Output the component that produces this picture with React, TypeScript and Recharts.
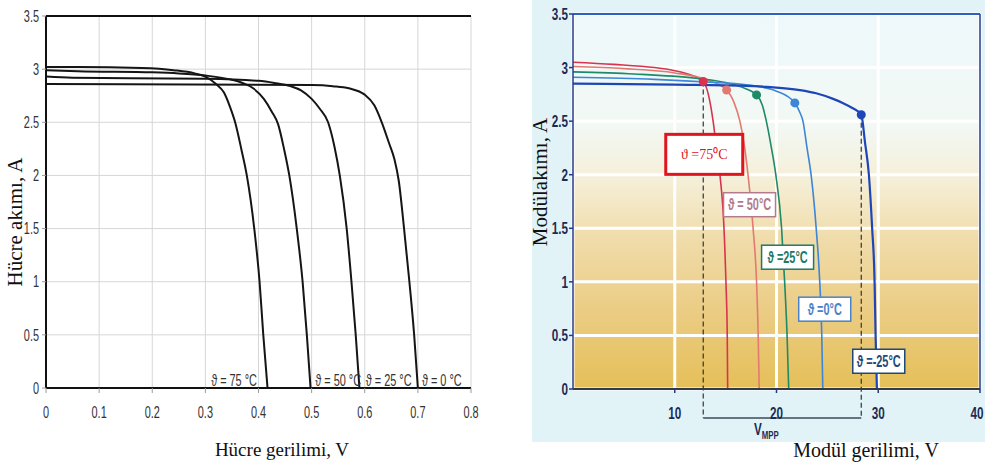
import React from 'react';
import {
  LineChart, ComposedChart, Line, Scatter, Cell, XAxis, YAxis, CartesianGrid,
  ReferenceLine, ReferenceDot,
} from 'recharts';

// ---- left panel: single cell, current vs voltage for 4 temperatures ----
const cellV75 = [0, 0.06, 0.18, 0.24, 0.28, 0.3, 0.32, 0.335, 0.346, 0.356, 0.368, 0.378, 0.392, 0.402, 0.409, 0.417];
const cellI75 = [3.02, 3.02, 3.01, 2.99, 2.96, 2.93, 2.86, 2.78, 2.65, 2.5, 2.24, 2.0, 1.5, 1.0, 0.5, 0];
const cellV50 = [0, 0.06, 0.2, 0.25, 0.3, 0.35, 0.37, 0.39, 0.41, 0.425, 0.437, 0.448, 0.458, 0.472, 0.483, 0.491, 0.498];
const cellI50 = [2.99, 2.98, 2.97, 2.96, 2.94, 2.9, 2.87, 2.82, 2.72, 2.6, 2.48, 2.25, 2.0, 1.5, 1.0, 0.5, 0];
const cellV25 = [0, 0.05, 0.3, 0.4, 0.43, 0.46, 0.48, 0.5, 0.515, 0.531, 0.543, 0.553, 0.566, 0.575, 0.583, 0.59];
const cellI25 = [2.93, 2.92, 2.91, 2.89, 2.87, 2.84, 2.8, 2.72, 2.63, 2.5, 2.27, 2.0, 1.5, 1.0, 0.5, 0];
const cellV0 = [0, 0.5, 0.54, 0.57, 0.6, 0.618, 0.632, 0.646, 0.656, 0.664, 0.674, 0.684, 0.693, 0.7];
const cellI0 = [2.86, 2.85, 2.84, 2.82, 2.76, 2.66, 2.5, 2.3, 2.15, 1.95, 1.5, 1.0, 0.5, 0];

const cellXTicks = [0, 0.1, 0.2, 0.3, 0.4, 0.5, 0.6, 0.7, 0.8];
const cellYTicks = [0, 0.5, 1, 1.5, 2, 2.5, 3, 3.5];
const cellLabels = ['ϑ = 75 °C', 'ϑ = 50 °C', 'ϑ = 25 °C', 'ϑ = 0 °C'];
const cellLabelV = [0.354, 0.55, 0.645, 0.745];
const cellLabelI = [0.075, 0.075, 0.075, 0.075];

// ---- right panel: module, current vs voltage for 5 temperatures ----
const modV75 = [0, 4, 8, 10.5, 12.8, 13.3, 13.77, 14.1, 14.44, 14.84, 15.03, 15.16, 15.2];
const modI75 = [3.05, 3.03, 3.0, 2.96, 2.87, 2.75, 2.5, 2.25, 2.0, 1.5, 1.0, 0.5, 0];
const modV50 = [0, 5, 10, 13, 15.1, 15.8, 16.4, 16.8, 17.2, 17.7, 18.04, 18.2, 18.3];
const modI50 = [3.01, 2.99, 2.95, 2.89, 2.79, 2.68, 2.5, 2.3, 2.0, 1.5, 1.0, 0.5, 0];
const modV25 = [0, 6, 12, 15, 16.5, 18.04, 18.6, 19.0, 19.5, 19.93, 20.5, 20.8, 21.04, 21.2];
const modI25 = [2.96, 2.94, 2.9, 2.86, 2.82, 2.745, 2.65, 2.5, 2.25, 2.0, 1.5, 1.0, 0.5, 0];
const modV0 = [0, 8, 14, 17, 20, 21.8, 22.3, 22.6, 23.0, 23.4, 23.9, 24.25, 24.45, 24.55];
const modI0 = [2.91, 2.89, 2.86, 2.84, 2.78, 2.67, 2.58, 2.5, 2.25, 2.0, 1.5, 1.0, 0.5, 0];
const modVm25 = [0, 10, 17, 19, 22.3, 23.9, 25.5, 26.5, 27.5, 28.33, 28.7, 29.08, 29.4, 29.64, 29.74, 29.87];
const modIm25 = [2.85, 2.84, 2.83, 2.82, 2.79, 2.76, 2.71, 2.67, 2.62, 2.56, 2.3, 2.0, 1.5, 1.0, 0.5, 0];

const mppV = [12.8, 15.1, 18.04, 21.8, 28.33];
const mppI = [2.87, 2.79, 2.745, 2.67, 2.56];

const modXTicks = [10, 20, 30, 40];
const modYTicks = [0, 0.5, 1, 1.5, 2, 2.5, 3, 3.5];
const modLabels = ['ϑ =75⁰C', 'ϑ = 50°C', 'ϑ =25°C', 'ϑ =0°C', 'ϑ =-25°C'];
const modLabelV = [12.9, 17.35, 21.09, 24.74, 30.05];
const modLabelI = [2.19, 1.72, 1.23, 0.745, 0.259];

const vmppFrom = 12.8;
const vmppTo = 28.33;
const vmppLevel = -0.27;

const modColors = ['#d8334f', '#e27a72', '#1e8a68', '#3b86d6', '#1f46b8'];
const boxColors = ['#e0141c', '#b27a8a', '#1e7a68', '#4a82c8', '#1f4a78'];

const toPts = (v: number[], i: number[]) => v.map((x, k) => ({ v: x, i: i[k] }));

const cellSeries = [
  toPts(cellV75, cellI75), toPts(cellV50, cellI50), toPts(cellV25, cellI25), toPts(cellV0, cellI0),
];
const modSeries = [
  toPts(modV75, modI75), toPts(modV50, modI50), toPts(modV25, modI25), toPts(modV0, modI0), toPts(modVm25, modIm25),
];
const mppPts = toPts(mppV, mppI);

const sans = '"Liberation Sans", Arial, sans-serif';
const serif = '"Liberation Serif", "Times New Roman", serif';

// squeezed text, stands in for the condensed face of the original
const Narrow = ({ x, y, anchor, dy, fill, size, weight, children }: any) => (
  <text x={0} y={0} dy={dy} textAnchor={anchor} fill={fill} fontSize={size} fontWeight={weight}
    fontFamily={sans} transform={`translate(${x},${y}) scale(0.78,1.12)`}>
    {children}
  </text>
);

const tickX = (fill: string, weight: number, size: number) => (p: any) => (
  <Narrow x={p.x} y={p.y} anchor="middle" dy="0.75em" fill={fill} size={size} weight={weight}>{p.payload.value}</Narrow>
);
const tickY = (fill: string, weight: number, size: number) => (p: any) => (
  <Narrow x={p.x} y={p.y} anchor="end" dy="0.36em" fill={fill} size={size} weight={weight}>{p.payload.value}</Narrow>
);

const ModBox = (props: any) => {
  const { cx, cy, idx } = props;
  const first = idx === 0;
  const w = first ? 77 : 52;
  const h = first ? 40 : 24;
  return (
    <g>
      <rect x={cx - w / 2} y={cy - h / 2} width={w} height={h} fill="#ffffff"
        stroke={boxColors[idx]} strokeWidth={first ? 3 : 1.5} />
      {first ? (
        <text x={cx} y={cy + 5} textAnchor="middle" fill={boxColors[idx]} fontFamily={serif} fontSize={14}>
          {modLabels[idx]}
        </text>
      ) : (
        <Narrow x={cx} y={cy} anchor="middle" dy="0.36em" fill={boxColors[idx]} size={14} weight={700}>
          {modLabels[idx]}
        </Narrow>
      )}
    </g>
  );
};

export default function App() {
  return (
    <div style={{ position: 'absolute', left: 0, top: 0, width: 985, height: 468, background: '#fff', overflow: 'hidden' }}>
      {/* left panel */}
      <div style={{ position: 'absolute', left: 0, top: 0 }}>
        <LineChart width={490} height={468} margin={{ top: 16, right: 19, bottom: 50, left: 6 }}>
          <CartesianGrid stroke="#d6d6d6" strokeWidth={1} />
          <XAxis dataKey="v" type="number" domain={[0, 0.8]} ticks={cellXTicks} height={30}
            stroke="#111" strokeWidth={2} tickLine={{ stroke: '#999', strokeWidth: 1 }} tickSize={5} tickMargin={13}
            tick={tickX('#333', 400, 14)} allowDataOverflow />
          <YAxis type="number" domain={[0, 3.5]} ticks={cellYTicks} width={40}
            stroke="#111" strokeWidth={2} tickLine={{ stroke: '#999', strokeWidth: 1 }} tickSize={4} tickMargin={3}
            tick={tickY('#333', 400, 14)} allowDataOverflow />
          <ReferenceLine y={3.5} stroke="#111" strokeWidth={2} />
          {cellSeries.map((pts, k) => (
            <Line key={k} data={pts} dataKey="i" type="monotone" stroke="#151515" strokeWidth={2}
              dot={false} isAnimationActive={false} />
          ))}
          {cellLabels.map((t, k) => (
            <ReferenceDot key={t} x={cellLabelV[k]} y={cellLabelI[k]} r={0}
              shape={(p: any) => (
                <Narrow x={p.cx} y={p.cy} anchor="middle" dy="0.36em" fill="#333" size={14} weight={400}>{t}</Narrow>
              )} />
          ))}
        </LineChart>
      </div>
      <div style={{ position: 'absolute', left: 15, top: 222, width: 0, height: 0 }}>
        <div style={{ position: 'absolute', left: 0, top: 0, transform: 'translate(-50%, -50%) rotate(-90deg)',
          whiteSpace: 'nowrap', fontFamily: serif, fontSize: 21, color: '#111' }}>Hücre akımı, A</div>
      </div>
      <div style={{ position: 'absolute', left: 282, top: 450, transform: 'translate(-50%, -50%)',
        whiteSpace: 'nowrap', fontFamily: serif, fontSize: 19, color: '#111' }}>Hücre gerilimi, V</div>

      {/* right panel */}
      <div style={{ position: 'absolute', left: 532, top: 0, width: 453, height: 442, background: '#e2f3f7' }} />
      <div style={{ position: 'absolute', left: 490, top: 0 }}>
        <ComposedChart width={495} height={468} margin={{ top: 14, right: 5, bottom: 49, left: 42 }}>
          <defs>
            <linearGradient id="modBg" x1="0" y1="0" x2="0" y2="1">
              <stop offset="0" stopColor="#eef8fb" />
              <stop offset="0.3" stopColor="#f2f8f4" />
              <stop offset="0.45" stopColor="#f5eed6" />
              <stop offset="0.6" stopColor="#f0dcaa" />
              <stop offset="0.78" stopColor="#ebcd86" />
              <stop offset="1" stopColor="#e5bf58" />
            </linearGradient>
          </defs>
          <CartesianGrid fill="url(#modBg)" stroke="#ffffff" strokeWidth={3} />
          <XAxis dataKey="v" type="number" domain={[0, 40]} ticks={modXTicks} height={30}
            stroke="#333a48" strokeWidth={2} tickLine={{ stroke: '#2a3a7a', strokeWidth: 1.5 }} tickSize={4} tickMargin={13}
            tick={tickX('#1c2b55', 700, 15)} allowDataOverflow />
          <YAxis type="number" domain={[0, 3.5]} ticks={modYTicks} width={41}
            stroke="#2a3a8a" strokeWidth={1.5} tickLine={{ stroke: '#2a3a8a', strokeWidth: 1.5 }} tickSize={4} tickMargin={1}
            tick={tickY('#1c2b55', 700, 15)} allowDataOverflow />
          <ReferenceLine y={3.5} stroke="#2f5fc0" strokeWidth={2} />
          <ReferenceLine x={40} stroke="#2a3a8a" strokeWidth={1.5} />
          <ReferenceLine segment={[{ x: vmppFrom, y: mppI[0] }, { x: vmppFrom, y: vmppLevel }]}
            stroke="#333" strokeWidth={1.2} strokeDasharray="5 3" ifOverflow="visible" />
          <ReferenceLine segment={[{ x: vmppTo, y: mppI[4] }, { x: vmppTo, y: vmppLevel }]}
            stroke="#333" strokeWidth={1.2} strokeDasharray="5 3" ifOverflow="visible" />
          <ReferenceLine segment={[{ x: vmppFrom, y: vmppLevel }, { x: vmppTo, y: vmppLevel }]}
            stroke="#3a4a58" strokeWidth={1.5} ifOverflow="visible" />
          {modSeries.map((pts, k) => (
            <Line key={k} data={pts} dataKey="i" type="monotone" stroke={modColors[k]}
              strokeWidth={k === 4 ? 2.2 : 1.6} dot={false} isAnimationActive={false} />
          ))}
          <Scatter data={mppPts} dataKey="i" isAnimationActive={false}>
            {mppPts.map((_, k) => <Cell key={k} fill={modColors[k]} />)}
          </Scatter>
          {modLabels.map((t, k) => (
            <ReferenceDot key={t} x={modLabelV[k]} y={modLabelI[k]} r={0}
              shape={(p: any) => <ModBox cx={p.cx} cy={p.cy} idx={k} />} />
          ))}
          <ReferenceDot x={19} y={-0.37} r={0} ifOverflow="visible"
            shape={(p: any) => (
              <Narrow x={p.cx} y={p.cy} anchor="middle" dy="0.36em" fill="#1c2b55" size={15} weight={700}>
                V<tspan fontSize={10} dy={4}>MPP</tspan>
              </Narrow>
            )} />
        </ComposedChart>
      </div>
      <div style={{ position: 'absolute', left: 540, top: 182, width: 0, height: 0 }}>
        <div style={{ position: 'absolute', left: 0, top: 0, transform: 'translate(-50%, -50%) rotate(-90deg)',
          whiteSpace: 'nowrap', fontFamily: serif, fontSize: 21, color: '#111' }}>Modülakımı, A</div>
      </div>
      <div style={{ position: 'absolute', left: 866, top: 450, transform: 'translate(-50%, -50%)',
        whiteSpace: 'nowrap', fontFamily: serif, fontSize: 20, color: '#111' }}>Modül gerilimi, V</div>
    </div>
  );
}
